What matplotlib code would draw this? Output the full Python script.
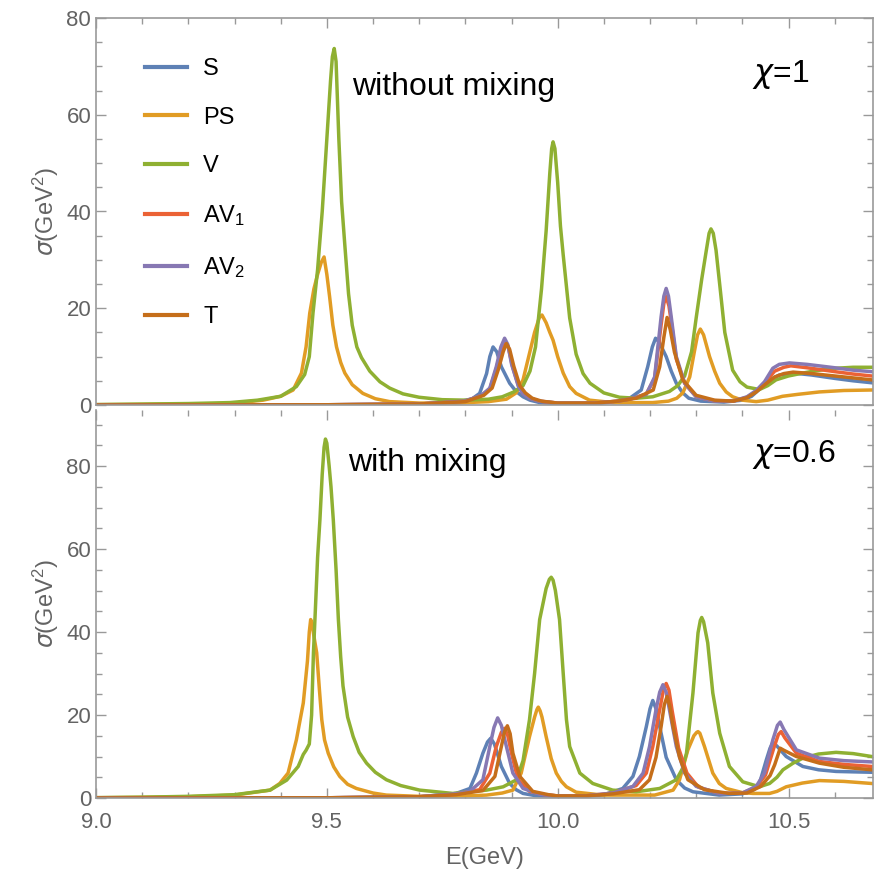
import matplotlib
matplotlib.use('Agg')
import matplotlib.pyplot as plt
from matplotlib.ticker import MultipleLocator

plt.rcParams['font.family'] = ['Liberation Sans', 'DejaVu Sans']
plt.rcParams['mathtext.default'] = 'regular'

labels = ['S', 'PS', 'V', 'AV$_1$', 'AV$_2$', 'T']
colors = ['#5E81B5', '#E19C24', '#8FB032', '#EB6235', '#8778B3', '#C56E1A']

# ---- top panel: without mixing, chi = 1 ----
top_E_S = [9.00, 9.50, 9.70, 9.788, 9.815, 9.831, 9.846, 9.853, 9.860, 9.868, 9.878, 9.896, 9.910, 9.925,
           9.940, 9.961, 10.00, 10.08, 10.13, 10.156, 10.181, 10.195, 10.205, 10.212, 10.220, 10.235, 10.246,
           10.257, 10.270, 10.284, 10.31, 10.36, 10.40, 10.42, 10.44, 10.46, 10.48, 10.51, 10.55, 10.60, 10.64, 10.68]
top_S = [0.0, 0.05, 0.2, 0.7, 1.3, 2.4, 6.5, 10.0, 12.0, 11.0, 7.9, 4.5, 2.8, 1.7,
         1.0, 0.5, 0.3, 0.3, 0.7, 1.4, 3.1, 7.9, 12.0, 13.8, 13.0, 10.0, 7.0,
         4.5, 2.6, 1.4, 0.8, 0.6, 1.0, 1.8, 3.5, 5.2, 6.2, 6.6, 6.2, 5.5, 5.0, 4.6]

top_E_PS = [9.00, 9.10, 9.20, 9.29, 9.362, 9.40, 9.427, 9.445, 9.455, 9.463, 9.472, 9.480, 9.488, 9.494,
            9.500, 9.506, 9.513, 9.521, 9.530, 9.539, 9.555, 9.578, 9.605, 9.636, 9.70, 9.78, 9.85, 9.889,
            9.91, 9.925, 9.939, 9.950, 9.960, 9.966, 9.975, 9.983, 9.990, 10.000, 10.012, 10.026, 10.040,
            10.069, 10.12, 10.206, 10.24, 10.258, 10.271, 10.286, 10.296, 10.303, 10.309, 10.316, 10.329,
            10.340, 10.351, 10.365, 10.379, 10.40, 10.43, 10.455, 10.487, 10.52, 10.567, 10.62, 10.68]
top_PS = [0.05, 0.1, 0.2, 0.3, 1.0, 1.8, 3.1, 6.6, 12.0, 19.0, 24.0, 27.0, 29.5, 30.6,
          27.0, 22.4, 16.5, 12.0, 8.8, 6.6, 4.2, 2.4, 1.3, 0.7, 0.4, 0.4, 0.7, 1.2,
          2.5, 5.2, 10.7, 15.0, 18.0, 18.6, 17.0, 15.0, 13.4, 10.0, 6.6, 3.8, 2.4,
          1.0, 0.5, 0.5, 0.8, 1.4, 2.5, 5.8, 11.0, 14.5, 15.7, 14.5, 10.0,
          7.0, 4.5, 2.7, 1.7, 1.0, 0.7, 1.0, 1.8, 2.2, 2.7, 3.0, 3.1]

top_E_V = [9.00, 9.10, 9.20, 9.29, 9.35, 9.40, 9.434, 9.452, 9.462, 9.470, 9.480, 9.490, 9.500, 9.508,
           9.512, 9.516, 9.520, 9.526, 9.532, 9.539, 9.547, 9.555, 9.565, 9.575, 9.593, 9.615, 9.636, 9.665,
           9.70, 9.75, 9.80, 9.85, 9.88, 9.905, 9.925, 9.940, 9.952, 9.965, 9.975, 9.983, 9.987, 9.990, 9.994,
           10.000, 10.006, 10.012, 10.026, 10.040, 10.055, 10.07, 10.10, 10.134, 10.17, 10.206, 10.242, 10.26,
           10.275, 10.29, 10.30, 10.312, 10.322, 10.328, 10.332, 10.337, 10.343, 10.352, 10.362, 10.379,
           10.395, 10.41, 10.437, 10.455, 10.473, 10.50, 10.531, 10.56, 10.603, 10.64, 10.68]
top_V = [0.1, 0.2, 0.3, 0.5, 1.0, 1.8, 3.8, 6.3, 10.0, 19.0, 28.0, 40.0, 55.0, 67.0,
         72.0, 73.7, 71.0, 55.0, 42.0, 33.0, 23.0, 16.5, 12.0, 9.8, 7.0, 4.8, 3.5, 2.3,
         1.6, 1.1, 1.0, 1.2, 1.7, 2.7, 4.0, 7.0, 12.0, 24.0, 36.0, 48.0, 53.0, 54.4, 53.0,
         46.0, 37.0, 31.0, 18.0, 10.5, 6.5, 4.5, 2.5, 1.6, 1.4, 1.7, 2.8, 4.0,
         6.0, 11.0, 18.0, 26.0, 32.0, 35.5, 36.4, 35.5, 32.0, 24.0, 15.0, 7.2,
         4.8, 3.7, 3.2, 4.0, 5.2, 6.0, 6.6, 7.1, 7.6, 7.8, 7.8]

top_E_AV1 = [9.00, 9.50, 9.70, 9.80, 9.835, 9.853, 9.867, 9.878, 9.886, 9.893, 9.902, 9.915, 9.925, 9.94,
             9.96, 10.00, 10.08, 10.13, 10.16, 10.192, 10.21, 10.224, 10.230, 10.235, 10.241, 10.247,
             10.257, 10.275, 10.30, 10.336, 10.38, 10.41, 10.43, 10.45, 10.47, 10.49, 10.505, 10.54,
             10.60, 10.64, 10.68]
top_AV1 = [0.0, 0.05, 0.2, 0.8, 2.0, 3.3, 7.5, 11.5, 13.2, 12.0, 8.0, 4.0, 2.4, 1.4,
           0.8, 0.4, 0.4, 0.8, 1.3, 2.3, 5.5, 16.5, 21.0, 22.4, 20.5, 16.5,
           9.5, 4.5, 1.7, 0.9, 0.8, 1.6, 2.8, 4.8, 7.0, 7.8, 8.1, 7.7,
           6.9, 6.4, 6.0]

top_E_AV2 = [9.00, 9.50, 9.70, 9.80, 9.835, 9.853, 9.867, 9.877, 9.885, 9.892, 9.900, 9.915, 9.925, 9.939,
             9.96, 10.00, 10.08, 10.13, 10.16, 10.192, 10.21, 10.224, 10.230, 10.235, 10.240, 10.246,
             10.257, 10.275, 10.30, 10.336, 10.38, 10.41, 10.43, 10.448, 10.466, 10.48, 10.502, 10.54,
             10.60, 10.64, 10.68]
top_AV2 = [0.0, 0.05, 0.2, 0.8, 2.0, 3.5, 7.9, 12.0, 13.8, 12.5, 8.5, 3.8, 2.3, 1.4,
           0.8, 0.4, 0.4, 0.8, 1.3, 2.2, 5.8, 18.2, 22.5, 24.1, 22.5, 18.2,
           10.0, 4.5, 1.7, 0.9, 0.8, 1.7, 3.0, 4.8, 7.6, 8.4, 8.7, 8.4,
           7.7, 7.2, 6.9]

top_E_T = [9.00, 9.50, 9.70, 9.80, 9.84, 9.858, 9.872, 9.882, 9.889, 9.896, 9.905, 9.918, 9.93, 9.945,
           9.965, 10.00, 10.08, 10.13, 10.17, 10.207, 10.221, 10.230, 10.237, 10.244, 10.253, 10.271,
           10.30, 10.34, 10.38, 10.41, 10.43, 10.45, 10.47, 10.49, 10.51, 10.55, 10.60, 10.64, 10.68]
top_T = [0.0, 0.05, 0.2, 0.7, 2.0, 3.5, 7.5, 11.0, 12.7, 11.5, 8.0, 4.0, 2.5, 1.4,
         0.8, 0.4, 0.4, 0.8, 1.4, 3.1, 7.9, 14.0, 18.1, 15.5, 10.9, 5.2,
         2.0, 1.0, 0.8, 1.5, 2.7, 4.3, 5.8, 6.5, 6.8, 6.5, 6.0, 5.6, 5.2]

# ---- bottom panel: with mixing, chi = 0.6 ----
bot_E_S = [9.00, 9.50, 9.70, 9.78, 9.81, 9.824, 9.838, 9.848, 9.855, 9.863, 9.870, 9.878, 9.896, 9.910,
           9.925, 9.95, 10.00, 10.06, 10.098, 10.141, 10.163, 10.177, 10.192, 10.200, 10.206, 10.213,
           10.221, 10.235, 10.257, 10.275, 10.293, 10.35, 10.40, 10.425, 10.437, 10.452, 10.460, 10.466,
           10.475, 10.495, 10.531, 10.565, 10.603, 10.64, 10.68]
bot_S = [0.0, 0.05, 0.3, 1.1, 2.3, 6.0, 10.8, 13.5, 14.4, 13.0, 10.5, 7.6, 3.5, 2.0,
         1.1, 0.6, 0.4, 0.5, 0.7, 2.3, 5.2, 10.0, 17.2, 21.5, 23.5, 21.5,
         17.2, 9.8, 4.4, 2.4, 1.5, 0.7, 1.0, 2.0, 3.5, 9.2, 12.0, 13.4,
         12.5, 10.0, 7.6, 6.8, 6.4, 6.3, 6.2]

bot_E_PS = [9.00, 9.10, 9.20, 9.30, 9.377, 9.398, 9.416, 9.434, 9.449, 9.458, 9.462, 9.465, 9.468, 9.472,
            9.478, 9.484, 9.489, 9.495, 9.503, 9.515, 9.528, 9.545, 9.564, 9.60, 9.629, 9.70, 9.80, 9.846,
            9.88, 9.903, 9.921, 9.939, 9.950, 9.955, 9.958, 9.962, 9.966, 9.975, 9.986, 9.997, 10.008,
            10.019, 10.040, 10.098, 10.21, 10.25, 10.264, 10.282, 10.295, 10.301, 10.304, 10.308, 10.313,
            10.318, 10.336, 10.350, 10.365, 10.40, 10.423, 10.459, 10.475, 10.495, 10.53, 10.567, 10.62, 10.68]
bot_PS = [0.05, 0.15, 0.3, 0.7, 1.9, 3.5, 6.0, 14.0, 22.9, 33.0, 40.0, 43.0, 42.0, 39.0,
          35.0, 26.0, 18.9, 14.0, 10.8, 7.5, 5.2, 3.3, 2.3, 1.2, 0.7, 0.4, 0.5, 0.7,
          1.2, 1.9, 6.0, 14.8, 19.5, 21.3, 21.9, 21.0, 19.5, 14.8, 9.5, 6.0, 4.0,
          2.7, 1.4, 0.7, 0.7, 1.9, 4.4, 11.6, 15.0, 15.8, 16.0, 15.6, 14.0,
          12.4, 6.0, 3.5, 2.3, 1.3, 1.1, 1.1, 1.6, 2.7, 3.6, 4.2, 4.0, 3.5]

bot_E_V = [9.00, 9.10, 9.20, 9.30, 9.377, 9.413, 9.438, 9.449, 9.455, 9.462, 9.467, 9.471, 9.475, 9.480,
           9.485, 9.490, 9.494, 9.497, 9.500, 9.505, 9.509, 9.514, 9.520, 9.525, 9.530, 9.535, 9.545, 9.557,
           9.570, 9.586, 9.605, 9.629, 9.66, 9.701, 9.773, 9.846, 9.882, 9.911, 9.925, 9.939, 9.950, 9.961,
           9.975, 9.982, 9.986, 9.990, 9.995, 10.004, 10.012, 10.019, 10.026, 10.048, 10.076, 10.119, 10.17,
           10.221, 10.257, 10.270, 10.279, 10.293, 10.304, 10.309, 10.312, 10.316, 10.325, 10.336, 10.351,
           10.372, 10.401, 10.437, 10.459, 10.475, 10.488, 10.51, 10.531, 10.565, 10.603, 10.64, 10.68]
bot_V = [0.1, 0.2, 0.4, 0.8, 1.9, 4.3, 7.6, 10.5, 11.5, 13.0, 20.0, 35.0, 45.0, 58.0,
         67.0, 78.0, 84.5, 86.5, 85.5, 80.0, 75.0, 67.0, 55.0, 43.0, 34.0, 27.0, 19.5, 14.8,
         11.0, 8.4, 6.2, 4.4, 3.0, 1.9, 1.1, 1.9, 2.7, 4.4, 9.0, 18.9, 30.0, 43.0,
         50.5, 52.7, 53.2, 52.5, 50.0, 43.0, 30.0, 18.9, 12.4, 6.0, 3.5, 1.9, 1.5,
         2.3, 4.4, 7.0, 10.8, 25.3, 39.8, 42.8, 43.5, 42.5, 37.4, 25.3, 15.6,
         7.6, 3.9, 2.7, 3.5, 5.0, 6.8, 8.4, 9.6, 10.6, 11.0, 10.7, 10.0]

bot_E_AV1 = [9.00, 9.50, 9.70, 9.78, 9.831, 9.853, 9.867, 9.878, 9.885, 9.892, 9.900, 9.914, 9.939, 9.97,
             10.00, 10.06, 10.12, 10.17, 10.192, 10.206, 10.221, 10.229, 10.235, 10.241, 10.248, 10.262,
             10.28, 10.305, 10.35, 10.40, 10.43, 10.45, 10.468, 10.478, 10.484, 10.492, 10.517, 10.567,
             10.62, 10.68]
bot_AV1 = [0.0, 0.05, 0.3, 0.9, 2.0, 6.0, 12.4, 15.8, 16.8, 15.0, 10.8, 4.4, 1.6, 0.8,
           0.5, 0.5, 1.2, 3.0, 6.0, 12.4, 21.3, 26.0, 27.6, 26.0, 21.0, 12.0,
           6.0, 2.6, 1.1, 1.2, 2.6, 5.5, 12.0, 15.3, 16.0, 14.5, 10.8, 8.8,
           8.1, 7.6]

bot_E_AV2 = [9.00, 9.50, 9.70, 9.78, 9.81, 9.838, 9.853, 9.862, 9.870, 9.878, 9.889, 9.903, 9.925, 9.961,
             10.00, 10.06, 10.12, 10.163, 10.185, 10.199, 10.213, 10.221, 10.228, 10.235, 10.242, 10.257,
             10.275, 10.30, 10.35, 10.40, 10.43, 10.448, 10.466, 10.476, 10.482, 10.490, 10.517, 10.567,
             10.62, 10.68]
bot_AV2 = [0.0, 0.05, 0.3, 1.0, 1.6, 4.4, 12.4, 17.0, 19.3, 17.5, 12.4, 6.0, 2.3, 0.9,
           0.5, 0.5, 1.2, 2.8, 6.0, 12.4, 21.3, 25.5, 27.3, 25.5, 21.3, 12.4,
           6.0, 2.8, 1.1, 1.2, 2.8, 6.0, 14.0, 17.5, 18.3, 16.5, 11.6, 9.6,
           9.0, 8.7]

bot_E_T = [9.00, 9.50, 9.70, 9.78, 9.838, 9.864, 9.878, 9.885, 9.891, 9.897, 9.903, 9.918, 9.946, 9.98,
           10.00, 10.06, 10.12, 10.177, 10.199, 10.213, 10.224, 10.231, 10.237, 10.243, 10.25, 10.264,
           10.282, 10.318, 10.372, 10.41, 10.44, 10.46, 10.47, 10.482, 10.49, 10.517, 10.567, 10.62, 10.68]
bot_T = [0.0, 0.05, 0.3, 0.8, 1.8, 5.2, 12.4, 16.0, 17.4, 15.5, 10.8, 5.2, 1.6, 0.8,
         0.5, 0.5, 1.0, 2.0, 4.4, 9.8, 17.2, 22.5, 24.5, 22.0, 17.2, 9.8,
         4.4, 2.0, 1.1, 1.2, 2.8, 5.4, 8.0, 12.0, 11.5, 10.0, 8.4, 7.4, 6.8]

top_series = [(top_E_S, top_S), (top_E_PS, top_PS), (top_E_V, top_V),
              (top_E_AV1, top_AV1), (top_E_AV2, top_AV2), (top_E_T, top_T)]
bot_series = [(bot_E_S, bot_S), (bot_E_PS, bot_PS), (bot_E_V, bot_V),
              (bot_E_AV1, bot_AV1), (bot_E_AV2, bot_AV2), (bot_E_T, bot_T)]

frame_col = '#999999'
label_col = '#636363'

fig = plt.figure(figsize=(8.8, 8.76), dpi=100)
ax_top = fig.add_axes([96/880, 1-405/876, 777/880, 387/876])
ax_bot = fig.add_axes([96/880, 1-798/876, 777/880, 388/876])


def style_axis(ax, ymax):
    ax.set_xlim(9.0, 10.683)
    ax.set_ylim(0, ymax)
    ax.xaxis.set_major_locator(MultipleLocator(0.5))
    ax.xaxis.set_minor_locator(MultipleLocator(0.1))
    ax.yaxis.set_major_locator(MultipleLocator(20))
    ax.yaxis.set_minor_locator(MultipleLocator(5))
    ax.tick_params(which='both', direction='in', top=True, right=True,
                   color=frame_col, labelcolor=label_col, labelsize=16, width=1)
    ax.tick_params(which='major', length=7)
    ax.tick_params(which='minor', length=4)
    for sp in ax.spines.values():
        sp.set_color(frame_col)
        sp.set_linewidth(1.2)
    ax.set_ylabel(r'$\mathit{\sigma}$(GeV$^2$)', color=label_col, fontsize=17, labelpad=4)


for ax, series in [(ax_top, top_series), (ax_bot, bot_series)]:
    for (e, y), c, lab in zip(series, colors, labels):
        ax.plot(e, y, color=c, lw=2.5, label=lab, solid_joinstyle='round')

style_axis(ax_top, 80)
style_axis(ax_bot, 93.5)
ax_top.tick_params(which='both', bottom=False, labelbottom=False)
ax_bot.spines['top'].set_visible(False)
ax_bot.set_yticks([0, 20, 40, 60, 80])
ax_bot.set_xticks([9.0, 9.5, 10.0, 10.5])
ax_bot.set_xticklabels(['9.0', '9.5', '10.0', '10.5'])
ax_bot.tick_params(axis='x', pad=10)
ax_bot.set_xlabel('E(GeV)', color=label_col, fontsize=17, labelpad=10)

leg = ax_top.legend(loc='upper left', bbox_to_anchor=(0.063, 0.896), frameon=False,
                    fontsize=17, handlelength=1.78, handletextpad=0.68, labelspacing=1.12,
                    borderpad=0, borderaxespad=0)
for ln in leg.get_lines():
    ln.set_linewidth(3.0)

ax_top.text(0.3295, 0.822, 'without mixing', transform=ax_top.transAxes,
            fontsize=23, ha='left', va='center')
ax_top.text(0.844, 0.853, r'$\mathit{\chi}$=1', transform=ax_top.transAxes,
            fontsize=23, ha='left', va='center')
ax_bot.text(0.3243, 0.863, 'with mixing', transform=ax_bot.transAxes,
            fontsize=23, ha='left', va='center')
ax_bot.text(0.844, 0.885, r'$\mathit{\chi}$=0.6', transform=ax_bot.transAxes,
            fontsize=23, ha='left', va='center')

fig.savefig('out.png', dpi=100)
